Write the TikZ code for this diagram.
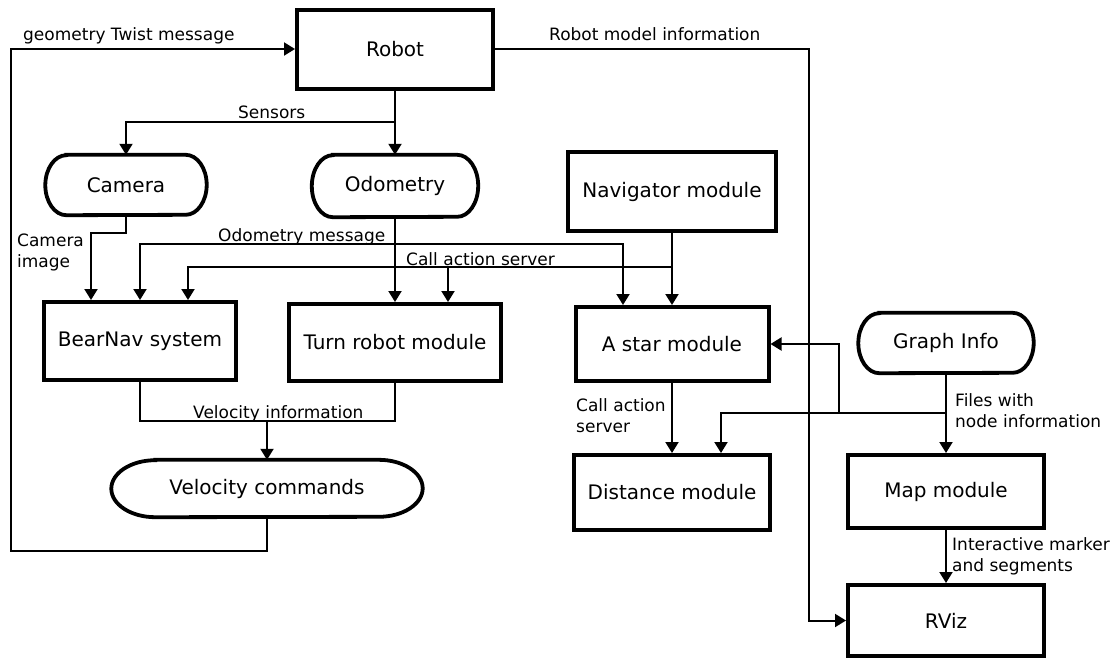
\documentclass[tikz,border=0pt]{standalone}
\usepackage{fontspec}
\setmainfont{DejaVu Sans}
\usetikzlibrary{arrows.meta}

\newcommand{\pillframe}[3]{%
  \draw[line width=3.8pt] ([xshift=#2]#1.north west) -- ([xshift=-#2]#1.north east)
    arc[start angle=90,end angle=-90,x radius=#2,y radius=#3]
    -- ([xshift=#2]#1.south west)
    arc[start angle=270,end angle=90,x radius=#2,y radius=#3] -- cycle;}

\begin{document}
\begin{tikzpicture}[x=1pt,y=-1pt]
\tikzstyle{box}=[draw,line width=4pt,inner sep=0pt,font=\fontsize{20}{24}\selectfont]
\tikzstyle{pill}=[inner sep=0pt,font=\fontsize{20}{24}\selectfont]
\tikzstyle{lbl}=[anchor=base west,inner sep=0pt,align=left,font=\fontsize{17}{21}\selectfont]
\tikzstyle{arr}=[line width=2pt,-{Triangle[length=11pt,width=13pt]}]
\tikzstyle{wire}=[line width=1.7pt]
\useasboundingbox (0,0) rectangle (1115,659);

\node[box,minimum width=196pt,minimum height=79pt] (robot) at (395,49) {Robot};
\node[pill,minimum width=161pt,minimum height=60pt] (camera) at (126,185) {Camera};
\node[pill,minimum width=166pt,minimum height=62pt] (odom) at (395,186) {Odometry};
\node[box,minimum width=208pt,minimum height=79pt] (nav) at (672,191.5) {Navigator module};
\node[box,minimum width=192pt,minimum height=78pt] (bearnav) at (140,341) {BearNav system};
\node[box,minimum width=212pt,minimum height=77pt] (turn) at (395,342.5) {Turn robot module};
\node[box,minimum width=193pt,minimum height=74pt] (astar) at (672,344) {A star module};
\node[pill,minimum width=175pt,minimum height=60pt] (graph) at (946,343) {Graph Info};
\node[pill,minimum width=311pt,minimum height=57pt] (velcmd) at (267,488.5) {Velocity commands};
\node[box,minimum width=196pt,minimum height=75pt] (dist) at (672,492.5) {Distance module};
\node[box,minimum width=196pt,minimum height=73pt] (map) at (946,491.5) {Map module};
\node[box,minimum width=196pt,minimum height=71pt] (rviz) at (946,620.5) {RViz};
\pillframe{camera}{21pt}{30pt}
\pillframe{odom}{21pt}{31pt}
\pillframe{graph}{21pt}{30pt}
\pillframe{velcmd}{44pt}{28.5pt}

\coordinate (sens) at (395,122);
\coordinate (odomsg) at (395,244);
\coordinate (call) at (672,267);
\coordinate (velinfo) at (267,421);
\coordinate (loop) at (11,551);
\coordinate (model) at (809,49);
\coordinate (files) at (946,413);
\coordinate (astarin) at (839,413);

\draw[arr] (velcmd.south) |- (loop) |- (robot.west);
\draw[arr] (robot.east) -- (model) |- (rviz.west);
\draw[arr] (robot.south) -- (odom.north);
\draw[arr] (sens) -| (camera.north);
\draw[arr] (camera.south) -- ++(0,18) -| ([xshift=-49]bearnav.north);
\draw[arr] (odom.south) -- (turn.north);
\draw[arr] (odomsg) -| (bearnav.north);
\draw[arr] (odomsg) -| ([xshift=-49]astar.north);
\draw[arr] (nav.south) -- (astar.north);
\draw[arr] (call) -| ([xshift=48]bearnav.north);
\draw[arr] (call) -| ([xshift=53]turn.north);
\draw[wire] (bearnav.south) |- (velinfo) -| (turn.south);
\draw[arr] (velinfo) -- (velcmd.north);
\draw[arr] (astar.south) -- (dist.north);
\draw[arr] (graph.south) -- (map.north);
\draw[arr] (files) -| ([xshift=49]dist.north);
\draw[arr] (astarin) |- (astar.east);
\draw[arr] (map.south) -- (rviz.north);

\node[lbl] (twistlbl) at (23,40) {geometry Twist message};
\node[lbl] (modellbl) at (549,40) {Robot model information};
\node[lbl] (senslbl) at (238,118) {Sensors};
\node[lbl] (camlbl) at (17,267) {Camera\\image};
\node[lbl] (odolbl) at (218,241) {Odometry message};
\node[lbl] (calllbl) at (406,265) {Call action server};
\node[lbl] (vellbl) at (193,418) {Velocity information};
\node[lbl] (call2lbl) at (576,432) {Call action\\server};
\node[lbl] (fileslbl) at (955,427) {Files with\\node information};
\node[lbl] (intlbl) at (952,571) {Interactive marker\\and segments};
\end{tikzpicture}
\end{document}
